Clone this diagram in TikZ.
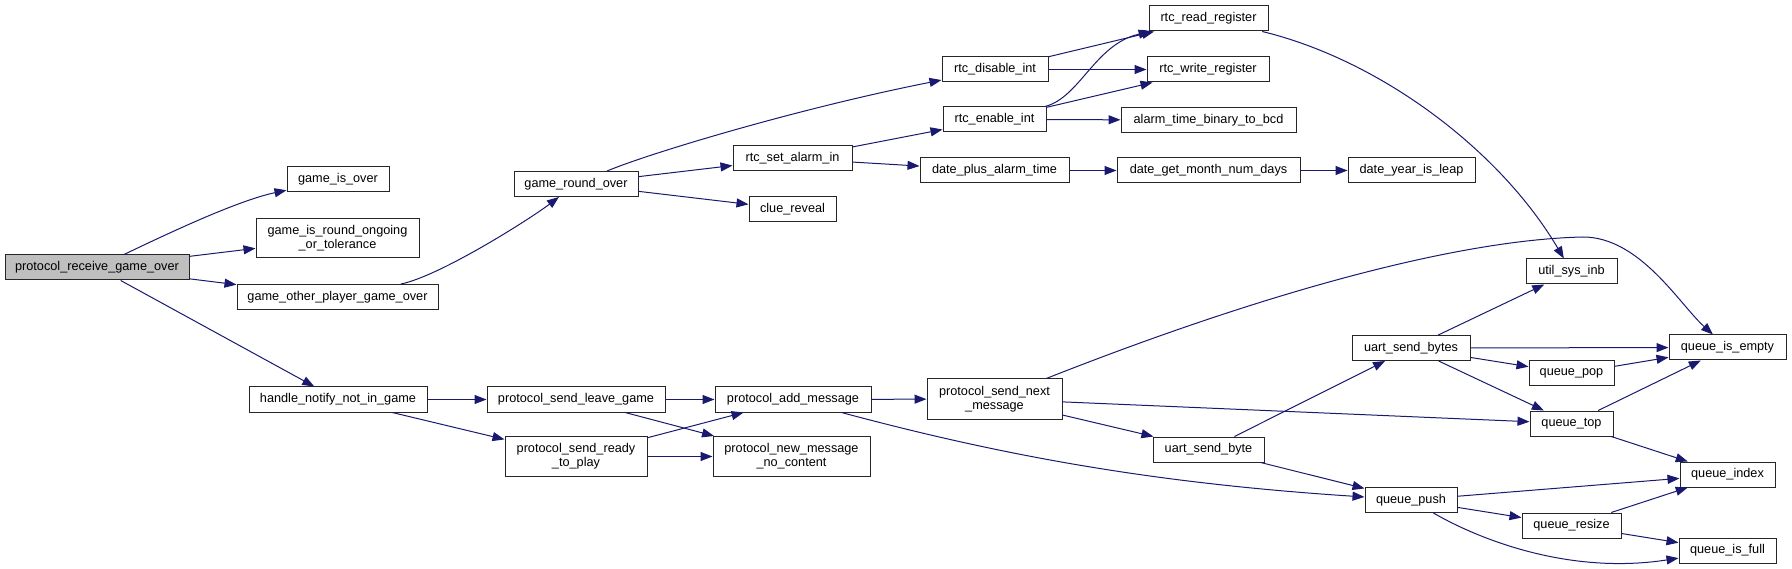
\documentclass[tikz,border=0pt]{standalone}
\usepackage{fontspec}
\setmainfont{Liberation Sans}
\usetikzlibrary{arrows.meta}
\definecolor{edgeblue}{RGB}{25,25,112}
\definecolor{rootgray}{RGB}{191,191,191}
\begin{document}
\begin{tikzpicture}[x=1pt,y=-1pt,
  fn/.style={draw=black!85, line width=1pt, fill=white, inner sep=0pt,
    minimum height=25pt, align=center, font=\fontsize{12.7}{14}\selectfont},
  fn2/.style={fn, minimum height=40pt},
  call/.style={draw=edgeblue, line width=1pt, -{Triangle[length=12pt,width=9pt]}}]
\useasboundingbox (0,0) rectangle (1792,569);

% nodes
\node[fn, fill=rootgray, minimum width=184pt] (prgo) at (97,267.5) {protocol\_receive\_game\_over};
\node[fn, minimum width=102pt] (gio) at (338,179.5) {game\_is\_over};
\node[fn2, minimum width=163pt, minimum height=39pt] (giro) at (337.5,238.5) {game\_is\_round\_ongoing\\\_or\_tolerance};
\node[fn, minimum width=201pt] (gopgo) at (337.5,297) {game\_other\_player\_game\_over};
\node[fn, minimum width=178pt] (hnnig) at (338,399.5) {handle\_notify\_not\_in\_game};
\node[fn, minimum width=178pt] (psl) at (576,399.5) {protocol\_send\_leave\_game};
\node[fn2, minimum width=142pt] (psr) at (576,456.5) {protocol\_send\_ready\\\_to\_play};
\node[fn, minimum width=156pt] (pam) at (793,399.5) {protocol\_add\_message};
\node[fn2, minimum width=157pt] (pnm) at (791.5,456.5) {protocol\_new\_message\\\_no\_content};
\node[fn2, minimum width=135pt] (psnm) at (994.5,399) {protocol\_send\_next\\\_message};
\node[fn, minimum width=124pt] (gro) at (576,184) {game\_round\_over};
\node[fn, minimum width=106pt] (rdi) at (995,69.5) {rtc\_disable\_int};
\node[fn, minimum width=103pt] (rei) at (994.5,119.5) {rtc\_enable\_int};
\node[fn, minimum width=119pt] (rsai) at (792.5,158.5) {rtc\_set\_alarm\_in};
\node[fn, minimum width=87pt] (cr) at (792.5,209.5) {clue\_reveal};
\node[fn, minimum width=149pt] (dpat) at (994.5,170.5) {date\_plus\_alarm\_time};
\node[fn, minimum width=119pt] (rrr) at (1208.5,18.5) {rtc\_read\_register};
\node[fn, minimum width=122pt] (rwr) at (1208,69.5) {rtc\_write\_register};
\node[fn, minimum width=175pt] (atbb) at (1208.5,120) {alarm\_time\_binary\_to\_bcd};
\node[fn, minimum width=183pt] (dgmnd) at (1208.5,170.5) {date\_get\_month\_num\_days};
\node[fn, minimum width=127pt] (dyil) at (1411.5,170.5) {date\_year\_is\_leap};
\node[fn, minimum width=91pt] (usi) at (1571.5,271.5) {util\_sys\_inb};
\node[fn, minimum width=118pt] (usbs) at (1411,348) {uart\_send\_bytes};
\node[fn, minimum width=117pt] (qie) at (1727.5,347.5) {queue\_is\_empty};
\node[fn, minimum width=85pt] (qpop) at (1571.5,373.5) {queue\_pop};
\node[fn, minimum width=83pt] (qtop) at (1571.5,423.5) {queue\_top};
\node[fn, minimum width=111pt] (usb) at (1208.5,449.5) {uart\_send\_byte};
\node[fn, minimum width=95pt] (qidx) at (1727.5,474.5) {queue\_index};
\node[fn, minimum width=92pt] (qpush) at (1411,500) {queue\_push};
\node[fn, minimum width=99pt] (qres) at (1571.5,525.5) {queue\_resize};
\node[fn, minimum width=97pt] (qif) at (1727.5,550.5) {queue\_is\_full};

% edges
\draw[call] (prgo) .. controls (175,230) and (240,200) .. (gio);
\draw[call] (prgo) -- (giro);
\draw[call] (prgo) -- (gopgo);
\draw[call] (prgo) -- (hnnig);
\draw[call] (gopgo) .. controls (440,276) and (530,219) .. (gro);
\draw[call] (gro) .. controls (650,153) and (800,108) .. (rdi);
\draw[call] (gro) -- (rsai);
\draw[call] (gro) -- (cr);
\draw[call] (rdi) -- (rrr);
\draw[call] (rdi) -- (rwr);
\draw[call] (rei) .. controls (1080,97.5) and (1095,44) .. (rrr);
\draw[call] (rei) -- (rwr);
\draw[call] (rei) -- (atbb);
\draw[call] (rsai) -- (rei);
\draw[call] (rsai) -- (dpat);
\draw[call] (dpat) -- (dgmnd);
\draw[call] (dgmnd) -- (dyil);
\draw[call] (rrr) .. controls (1380,60) and (1500,150) .. (usi);
\draw[call] (hnnig) -- (psl);
\draw[call] (hnnig) -- (psr);
\draw[call] (psl) -- (pam);
\draw[call] (psl) -- (pnm);
\draw[call] (psr) -- (pam);
\draw[call] (psr) -- (pnm);
\draw[call] (pam) -- (psnm);
\draw[call] (pam) .. controls (1000,455) and (1150,483) .. (qpush);
\draw[call] (psnm) .. controls (1250,298) and (1450,240) .. (1583,237)
  .. controls (1640,237) and (1680,305) .. ([shift={(-14.5,0)}]qie.north);
\draw[call] (psnm) -- (qtop);
\draw[call] (psnm) -- (usb);
\draw[call] (usb) -- (usbs);
\draw[call] (usb) -- (qpush);
\draw[call] (usbs) -- (usi);
\draw[call] (usbs) -- (qie);
\draw[call] (usbs) -- (qpop);
\draw[call] (usbs) -- (qtop);
\draw[call] (qpop) -- (qie);
\draw[call] (qtop) -- (qie);
\draw[call] (qtop) -- (qidx);
\draw[call] (qpush) -- (qidx);
\draw[call] (qpush) -- (qres);
\draw[call] (qpush) .. controls (1480,540) and (1570,575) .. (qif);
\draw[call] (qres) -- (qidx);
\draw[call] (qres) -- (qif);
\end{tikzpicture}
\end{document}
